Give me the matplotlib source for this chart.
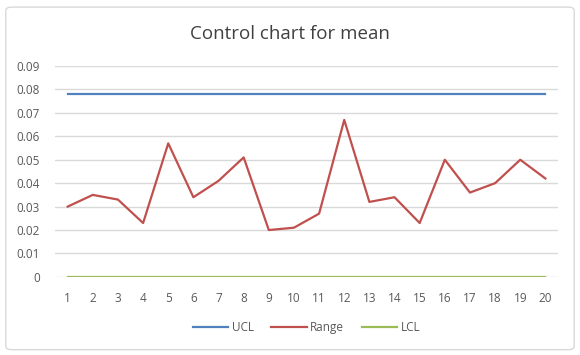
import matplotlib
matplotlib.use('Agg')
import matplotlib.pyplot as plt
from matplotlib.patches import FancyBboxPatch
import numpy as np

samples = list(range(1, 21))
ucl = [0.078] * 20
rng = [0.030, 0.035, 0.033, 0.023, 0.057, 0.034, 0.041, 0.051, 0.020, 0.021,
       0.027, 0.067, 0.032, 0.034, 0.023, 0.050, 0.036, 0.040, 0.050, 0.042]
lcl = [0.0] * 20
yticks = [0, 0.01, 0.02, 0.03, 0.04, 0.05, 0.06, 0.07, 0.08, 0.09]

plt.rcParams['font.family'] = ['Open Sans', 'DejaVu Sans']

fig = plt.figure(figsize=(5.8, 3.55), dpi=100)
border = FancyBboxPatch((0.01, 0.015), 0.98, 0.965, boxstyle='round,pad=0,rounding_size=0.01',
                        transform=fig.transFigure, facecolor='none', edgecolor='#d9d9d9', lw=1, zorder=-1)
fig.patches.append(border)

ax = fig.add_axes([0.095, 0.22, 0.867, 0.594])
x = np.arange(len(samples))
ax.plot(x, ucl, color='#4f81bd', lw=1.6, label='UCL')
ax.plot(x, rng, color='#c0504d', lw=1.6, label='Range')
ax.plot(x, lcl, color='#9bbb59', lw=1.6, label='LCL')

ax.set_xlim(-0.5, len(samples) - 0.5)
ax.set_ylim(0, 0.09)
ax.set_yticks(yticks)
ax.set_yticklabels(['0' if v == 0 else '%.2f' % v for v in yticks])
ax.set_xticks(x)
ax.set_xticklabels([str(s) for s in samples])
ax.grid(axis='y', color='#d9d9d9', lw=1)
ax.set_axisbelow(True)
for s in ax.spines.values():
    s.set_visible(False)
ax.tick_params(length=0, labelsize=8.5, colors='#595959')
ax.tick_params(axis='x', pad=11)
ax.tick_params(axis='y', pad=11)

fig.text(0.5, 0.905, 'Control chart for mean', ha='center', va='center', fontsize=13.5, color='#404040')
ax.legend(loc='center', bbox_to_anchor=(0.5, -0.24), ncol=3, frameon=False, fontsize=8.5,
          handlelength=3, columnspacing=1.5, handletextpad=0.3, labelcolor='#595959')

plt.savefig('out.png', dpi=100)
